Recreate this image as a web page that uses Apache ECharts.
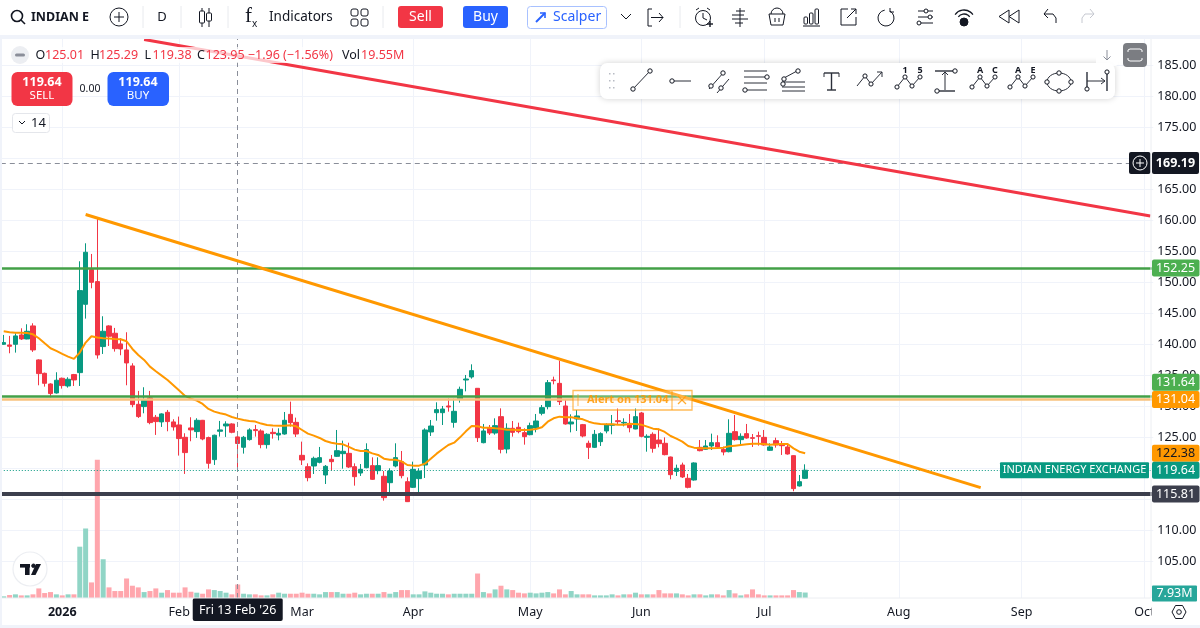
<!DOCTYPE html>
<html>
<head>
<meta charset="utf-8">
<title>INDIAN E</title>
<script src="https://cdn.jsdelivr.net/npm/echarts@6/dist/echarts.min.js"></script>
<style>html,body{margin:0;padding:0;background:#fff}#main{width:1200px;height:628px}</style>
</head>
<body>
<div id="main"></div>
<script>
// daily candles
const open = [139.95,139.84,139.95,141.46,140.81,142.91,137.43,135.27,133.55,132.10,
134.47,133.23,135.06,135.38,146.40,151.99,150.06,139.58,142.91,141.73,
140.01,139.04,136.46,130.27,129.90,131.30,128.18,127.43,128.98,127.43,
126.94,124.95,126.46,125.87,127.69,124.90,121.35,125.92,126.78,127.10,
125.01,123.34,124.58,126.19,125.97,123.77,125.75,125.32,125.48,128.65,
127.36,122.04,120.21,120.32,120.91,118.87,121.40,121.88,122.31,122.36,
120.21,119.19,120.05,120.38,119.57,118.66,117.63,120.32,121.02,117.79,
116.88,118.28,120.48,125.81,128.92,128.92,130.00,127.36,131.07,134.19,
134.68,132.85,124.08,126.50,125.64,128.28,123.06,126.40,126.56,125.70,
125.37,126.45,128.82,129.89,134.19,133.65,130.00,127.10,127.90,126.99,
123.98,123.33,124.25,125.97,126.88,127.63,127.26,127.20,126.29,128.87,
124.94,125.43,124.51,123.98,121.77,119.46,120.48,118.33,118.06,123.33,
123.01,123.55,124.08,123.01,122.63,125.86,124.57,125.54,124.89,125.21,
124.94,122.85,124.41,123.82,123.39,121.99,117.10,118.33];
const close = [140.22,139.63,141.30,140.81,142.05,139.04,135.22,133.66,132.00,134.15,
133.29,134.31,134.20,148.61,154.79,149.95,138.23,142.05,141.24,139.25,
139.20,136.94,130.22,128.29,130.92,127.32,127.48,128.72,127.48,126.62,
124.74,122.48,126.14,127.69,124.68,120.76,125.28,126.14,127.10,125.76,
123.95,124.95,126.14,126.03,123.77,125.44,125.54,125.59,127.69,127.31,
125.48,121.29,118.44,121.56,121.67,120.27,121.02,122.79,122.69,120.16,
118.60,119.78,122.96,118.17,120.38,115.21,119.51,121.67,118.76,114.57,
119.78,119.51,126.13,126.77,129.41,129.51,129.84,129.14,132.69,134.35,
135.70,124.89,125.97,125.64,126.83,123.01,126.40,125.75,125.86,125.05,
126.83,127.58,129.73,133.76,134.08,130.70,127.10,127.42,128.39,125.16,
123.33,125.43,125.54,126.99,127.04,127.47,127.36,126.50,128.28,125.11,
125.11,123.17,123.92,122.15,118.92,119.95,118.55,116.88,120.81,122.79,
123.55,124.08,123.39,122.58,125.59,124.57,125.11,124.84,124.78,125.11,
123.71,123.39,123.71,123.60,122.26,116.67,117.79,119.64];
const high = [141.46,141.30,141.73,142.53,143.18,143.34,137.53,135.38,133.66,135.44,
134.58,134.63,135.17,153.34,156.24,154.52,160.27,144.47,143.02,142.59,
140.92,141.89,136.89,132.43,133.02,132.43,128.55,128.82,129.36,127.86,
128.29,125.60,128.18,128.02,127.75,125.06,125.38,127.59,127.53,127.21,
125.29,125.17,126.40,126.94,126.24,125.60,126.40,126.40,129.03,130.70,
128.12,124.25,120.75,121.83,123.39,120.48,122.10,126.13,124.41,124.08,
120.75,120.64,123.98,121.72,121.72,119.51,119.95,123.98,122.74,118.49,
121.02,119.95,126.40,127.74,130.59,130.00,131.23,131.18,133.12,135.00,
136.72,132.90,127.10,126.93,128.01,129.62,127.20,127.58,127.31,126.40,
127.31,128.71,130.16,134.19,134.73,137.31,131.07,128.65,129.35,127.10,
124.41,126.13,125.75,127.20,128.55,129.62,128.01,128.71,129.62,129.03,
125.43,125.75,126.34,124.94,121.83,120.54,120.86,119.03,120.91,124.51,
124.51,125.54,125.27,123.44,127.85,128.55,125.59,127.10,125.48,125.86,
126.13,123.98,124.89,124.35,123.98,122.04,118.87,120.59];
const low = [139.84,138.50,138.61,140.65,140.76,138.72,133.34,133.12,131.40,132.00,
132.80,132.96,133.23,133.23,144.09,148.98,137.64,138.39,139.68,138.77,
138.18,133.34,129.79,128.07,128.82,127.05,125.33,126.62,125.92,126.03,
122.00,119.04,124.31,124.85,124.47,119.90,120.49,125.06,125.01,125.60,
119.38,122.32,124.42,125.06,123.18,123.13,124.73,124.46,125.37,126.67,
125.00,120.48,117.85,119.03,120.75,117.42,119.57,121.77,119.89,120.00,
117.15,118.71,119.95,118.06,118.98,114.73,115.48,120.11,118.33,114.51,
116.77,115.91,118.39,125.16,127.63,126.93,129.08,126.50,130.54,132.36,
134.41,124.19,123.98,125.32,125.37,122.36,122.36,125.05,125.59,123.76,
125.27,125.75,128.49,129.46,133.49,130.16,126.99,125.75,125.97,124.94,
121.45,123.22,123.55,125.59,125.43,127.10,126.72,125.75,126.24,124.94,
122.63,122.47,123.33,122.04,118.17,118.71,118.39,116.72,117.96,122.69,
122.90,122.90,123.22,122.04,122.52,124.41,123.82,124.73,123.39,123.60,
123.60,122.74,123.28,122.10,122.15,116.24,117.01,118.22];
// volume in millions
const volume = [2.4,4.3,5.3,3.8,3.8,5.3,13.9,7.2,8.6,5.3,
3.8,5.3,5.3,74.4,100.8,22.6,200.6,56.2,15.4,10.1,
10.1,28.3,17.8,15.4,8.6,10.1,13.9,7.7,11.5,7.7,
7.7,15.4,9.1,7.7,6.2,12.5,11.5,10.1,7.7,5.3,
19.55,6.2,5.3,5.3,3.8,3.8,5.3,7.7,6.2,6.2,
6.2,7.7,6.2,6.2,5.3,8.6,8.6,8.6,6.2,6.2,
7.7,5.3,6.2,6.2,6.2,8.6,6.2,8.6,11.5,11.5,
5.3,5.3,9.6,7.7,6.2,6.2,5.3,6.2,6.2,6.2,
6.2,35.5,8.6,6.7,12.5,17.8,12.5,11.5,7.7,6.7,
7.7,6.7,7.7,8.6,6.7,12.5,5.3,10.1,5.3,5.3,
5.3,3.8,3.8,3.8,5.3,3.8,5.3,5.3,7.7,5.3,
5.3,5.3,11.5,6.7,6.7,6.7,5.3,3.8,5.3,5.3,
3.8,5.3,5.3,3.8,11.5,6.7,3.8,5.3,12.5,5.3,
3.8,3.8,3.8,3.8,3.8,11.5,8.6,7.93];
// orange moving average
const ema = [142.05,141.89,141.83,141.83,141.78,141.56,140.92,140.11,139.31,138.88,
138.39,137.96,137.59,138.61,140.22,141.24,141.03,140.92,140.87,140.81,
140.76,140.44,139.20,138.23,137.43,136.35,135.60,134.90,134.20,133.34,
132.48,131.62,131.19,130.87,130.33,129.52,129.09,128.82,128.61,128.23,
127.96,127.75,127.59,127.48,127.16,126.94,126.85,126.80,126.83,126.88,
126.72,126.13,125.54,125.21,124.84,124.35,124.08,123.92,123.82,123.39,
122.96,122.74,122.74,122.36,122.10,121.50,121.34,121.34,121.07,120.48,
120.38,120.38,120.70,121.50,122.31,123.01,123.71,124.08,124.94,125.91,
126.77,126.72,126.50,126.50,126.40,126.34,126.18,126.18,126.13,126.13,
126.18,126.29,126.56,127.47,128.01,128.28,128.17,128.17,128.01,127.85,
127.47,127.20,127.10,127.04,127.04,126.99,126.99,127.10,127.10,126.99,
126.67,126.34,126.24,125.81,125.16,124.73,124.25,123.55,123.28,123.17,
123.17,123.17,123.22,123.28,123.49,123.60,123.71,123.82,123.92,123.92,
123.87,123.76,123.82,123.87,123.87,123.17,122.63,122.38];

const slotCount = 197;
const categories = Array.from({ length: slotCount }, (_, i) => String(i));
const tickIndex = [10, 30, 51, 70, 90, 109, 130, 153, 174, 195];
const tickLabels = ['2026', 'Feb', 'Mar', 'Apr', 'May', 'Jun', 'Jul', 'Aug', 'Sep', 'Oct'];
const priceTicks = [105,110,115,120,125,130,135,140,145,150,155,160,165,170,175,180,185];
// 115, 120 and 170 sit behind badges on the axis
const priceLabels = [105,110,125,130,135,140,145,150,155,160,165,175,180,185];

// trend lines: [slot, price]
const orangeTrend = [[14, 160.89], [167, 116.84]];
const redTrend = [[24, 189.10], [196, 160.65]];
const crossIndex = 40;
const crossPrice = 169.19;
const lastPrice = 119.64;
const levelGreenTop = 152.25;
const levelGreenMid = 131.64;
const levelAlert = 131.04;
const levelDark = 115.81;
const emaLast = 122.38;

const UP = '#089981', DOWN = '#f23645', ORANGE = '#ff9800', INK = '#131722';
const FONT = '"Noto Sans", sans-serif';

const chart = echarts.init(document.getElementById('main'), null, { renderer: 'canvas' });

const hLevel = (value, color, width, type) => ({ yAxis: value, lineStyle: { color, width, type: type || 'solid' } });

chart.setOption({
  animation: false,
  backgroundColor: '#fff',
  grid: { left: 0.8, width: 5.85 * slotCount, top: 38, height: 560 },
  xAxis: {
    type: 'category', data: categories, boundaryGap: true,
    axisLine: { show: false }, axisTick: { show: false }, splitLine: { show: false },
    axisLabel: {
      interval: (i) => tickIndex.includes(i),
      formatter: (v, i) => {
        const t = tickLabels[tickIndex.indexOf(i)];
        return t === '2026' ? '{b|2026}' : t;
      },
      rich: { b: { fontFamily: FONT, fontSize: 12.5, fontWeight: 'bold', color: INK } },
      color: INK, fontFamily: FONT, fontSize: 12.5, margin: 8
    }
  },
  yAxis: [
    {
      type: 'value', position: 'right', min: 99.03, max: 189.35, scale: true,
      axisLine: { show: false },
      axisTick: { show: false, customValues: priceTicks },
      splitLine: { lineStyle: { color: '#f0f3fa', width: 1 } },
      axisLabel: {
        customValues: priceLabels, margin: 4, color: INK, fontFamily: FONT, fontSize: 12.5,
        formatter: (v) => v.toFixed(2)
      }
    },
    { type: 'value', min: 0, max: 812, show: false, splitLine: { show: false } }
  ],
  series: [
    {
      name: 'Volume', type: 'bar', yAxisIndex: 1, barWidth: 5, z: 1, silent: true,
      data: volume.map((v, i) => ({
        value: v,
        itemStyle: { color: close[i] >= open[i] ? '#90d5c6' : '#ffa6ad' }
      })),
      markLine: {
        silent: true, symbol: 'none', z: 0, label: { show: false },
        lineStyle: { color: '#f0f3fa', width: 1, type: 'solid' },
        data: tickIndex.map((i) => ({ xAxis: i }))
      }
    },
    {
      name: 'INDIAN ENERGY EXCHANGE', type: 'candlestick', barWidth: 5, z: 2, silent: true,
      itemStyle: { color: UP, color0: DOWN, borderColor: UP, borderColor0: DOWN, borderWidth: 1 },
      data: open.map((o, i) => [o, close[i], low[i], high[i]]),
      markLine: {
        silent: true, symbol: 'none', label: { show: false },
        data: [
          hLevel(crossPrice, '#8a8e99', 1, [5, 4]),
          { xAxis: crossIndex, lineStyle: { color: '#8a8e99', width: 1, type: [5, 4] } },
          hLevel(lastPrice, '#089981', 1, [1, 2]),
          hLevel(levelGreenTop, '#43a047', 2.5),
          hLevel(levelAlert, '#f7c27e', 2.5),
          hLevel(levelGreenMid, '#43a047', 2.5),
          hLevel(levelDark, '#3c3f4d', 4)
        ]
      }
    },
    {
      name: 'EMA', type: 'line', data: ema, z: 4, symbol: 'none', silent: true,
      lineStyle: { color: ORANGE, width: 2 }
    },
    {
      name: 'Trend', type: 'line', data: orangeTrend, z: 6, symbol: 'none', silent: true,
      lineStyle: { color: ORANGE, width: 3 }
    },
    {
      name: 'Trend 2', type: 'line', data: redTrend, z: 6, symbol: 'none', silent: true,
      lineStyle: { color: DOWN, width: 3 }
    }
  ]
});

// little drawing helpers for the toolbar and price badges
const els = [];
const Z = 100;
const rect = (x, y, w, h, fill, r, stroke, lw, z) => els.push({ type: 'rect', silent: true, z: z || Z,
  shape: { x, y, width: w, height: h, r: r || 0 }, style: { fill: fill || 'none', stroke: stroke || 'none', lineWidth: lw || 1 } });
const text = (x, y, s, fill, size, opts) => els.push({ type: 'text', silent: true, z: (opts && opts.z) || Z + 2,
  style: { x, y, text: s, fill, font: ((opts && opts.weight) || 'normal') + ' ' + size + 'px ' + ((opts && opts.family) || FONT),
    textAlign: (opts && opts.align) || 'left', textVerticalAlign: 'middle' } });
const ln = (x1, y1, x2, y2, c, w) => els.push({ type: 'line', silent: true, z: Z + 1, shape: { x1, y1, x2, y2 },
  style: { stroke: c || INK, lineWidth: w || 1 } });
const poly = (pts, c, w) => els.push({ type: 'polyline', silent: true, z: Z + 1, shape: { points: pts },
  style: { stroke: c || INK, lineWidth: w || 1, fill: 'none' } });
const polygon = (pts, fill, stroke, z) => els.push({ type: 'polygon', silent: true, z: z || Z + 1, shape: { points: pts },
  style: { fill: fill || 'none', stroke: stroke || 'none', lineWidth: 1 } });
const circ = (x, y, r, fill, stroke, w, z) => els.push({ type: 'circle', silent: true, z: z || Z + 2, shape: { cx: x, cy: y, r },
  style: { fill: fill || '#fff', stroke: stroke || INK, lineWidth: w || 1 } });
const arc = (x, y, r, a0, a1, c, w) => els.push({ type: 'arc', silent: true, z: Z + 1,
  shape: { cx: x, cy: y, r, startAngle: a0, endAngle: a1 }, style: { stroke: c || INK, lineWidth: w || 1, fill: 'none' } });

// right axis panel and chart surrounds
rect(0, 0, 1200, 35, '#fff');
rect(0, 35, 1200, 4, '#f0f3fa');
rect(0, 39, 2, 586, '#f0f3fa');
ln(1151, 39, 1151, 598, '#eceef2', 1);
ln(2, 598, 1151, 598, '#eceef2', 1);
rect(1151.5, 599, 49, 26, '#fff');
rect(0, 625, 1200, 3, '#f0f3fa');

// top toolbar
circ(17, 16, 5.5, 'none', INK, 1.6); ln(21, 20, 25, 24, INK, 1.6);
text(31, 17, 'INDIAN E', INK, 12.5, { weight: 'bold' });
circ(119, 17, 9, 'none', INK, 1); ln(114, 17, 124, 17); ln(119, 12, 119, 22);
[143, 181, 228, 383, 680].forEach((x) => ln(x, 6, x, 28, '#e8eaee', 1));
text(162, 17, 'D', INK, 13, { align: 'center' });
ln(202, 8, 202, 27); rect(199.5, 11, 5, 12, '#fff', 1, INK, 1, Z + 2);
ln(209, 8, 209, 27); rect(206.5, 13, 5, 8, '#fff', 1, INK, 1, Z + 2);
text(245, 16, 'f', INK, 21, { family: '"Liberation Serif", serif' });
text(252, 24, 'x', INK, 10);
text(269, 17, 'Indicators', INK, 13.5);
[[351, 9], [361, 9], [351, 19], [361, 19]].forEach((p) => rect(p[0], p[1], 7, 7, 'none', 2, INK, 1, Z + 1));
rect(398, 6, 45, 22, DOWN, 3); text(420.5, 17, 'Sell', '#fff', 14, { align: 'center' });
rect(463, 6, 45, 22, '#2962ff', 3); text(485.5, 17, 'Buy', '#fff', 14, { align: 'center' });
rect(527.5, 6.5, 79, 22, '#fff', 3, '#a8c1ff', 1);
poly([[536, 22], [545, 13]], '#2962ff', 2); poly([[540, 13], [545, 13], [545, 18]], '#2962ff', 1.6);
text(553, 17, 'Scalper', '#2962ff', 14);
poly([[621, 14], [626, 19], [631, 14]]);
poly([[652, 9], [648, 9], [648, 26], [652, 26]]); ln(651, 17.5, 663, 17.5); poly([[659, 13], [663, 17.5], [659, 22]]);
// alarm
circ(703, 18, 7.5, 'none'); poly([[703, 13], [703, 18], [707, 20]]); ln(696, 10, 699, 8); ln(710, 10, 707, 8);
ln(707, 24, 713, 24, INK, 1.4); ln(710, 21, 710, 27, INK, 1.4);
// depth list
ln(740, 8, 740, 27); [[11, -4, 5], [15, -8, 4], [19, -8, 8], [23, -5, 3]].forEach((r) => { ln(740 + r[1], r[0], 740, r[0]); ln(740, r[0] + 0, 740 + r[2], r[0]); });
// basket
poly([[769, 14], [785, 14], [783, 25], [771, 25], [769, 14]]); arc(777, 14, 6, Math.PI, 0); ln(775, 18, 775, 22); ln(779, 18, 779, 22);
// bars
rect(804, 17, 3.5, 7, 'none', 1, INK, 1, Z + 1); rect(809.5, 13, 3.5, 11, 'none', 1, INK, 1, Z + 1); rect(815, 9, 3.5, 15, 'none', 1, INK, 1, Z + 1); ln(803, 26, 820, 26);
// external link
poly([[848, 9], [841, 9], [841, 25], [856, 25], [856, 17]]); ln(847, 18, 856, 9); poly([[851, 9], [856, 9], [856, 14]]);
// refresh
arc(886, 18, 8, -Math.PI / 3, Math.PI * 1.45); poly([[890, 8], [890, 12], [894, 12]]);
// sliders
[[11, 928], [17, 932], [23, 921]].forEach((r) => { ln(918, r[0], 933, r[0]); circ(r[1] - 2, r[0], 2); });
// wifi
arc(964, 21, 11, -Math.PI * 0.8, -Math.PI * 0.2, INK, 1.3); arc(964, 21, 7, -Math.PI * 0.8, -Math.PI * 0.2, INK, 1.3);
circ(964, 22, 4, INK, INK);
// rewind
polygon([[1009, 10], [1009, 23], [999, 16.5]], '#fff', INK); polygon([[1019, 10], [1019, 23], [1009, 16.5]], '#fff', INK);
// undo / redo
poly([[1048, 9], [1044, 14], [1048, 18]]); poly([[1044, 14], [1053, 14], [1056, 18], [1056, 23]]);
poly([[1090, 9], [1094, 14], [1090, 18]], '#c5c8d0'); poly([[1094, 14], [1085, 14], [1082, 18], [1082, 23]], '#c5c8d0');

// legend row
rect(30, 47, 378, 16, 'rgba(255,255,255,0.72)', 0);
rect(11, 46, 18, 18, '#eceef2', 9); rect(15, 53.5, 10, 3, '#8a8e99', 1.5);
const c40 = crossIndex;
const legendRows = [
  [35.5, 'O', INK], [45, open[c40].toFixed(2), DOWN],
  [90.5, 'H', INK], [99, high[c40].toFixed(2), DOWN],
  [144.5, 'L', INK], [152.5, low[c40].toFixed(2), DOWN],
  [197, 'C', INK], [205.5, close[c40].toFixed(2) + ' \u22121.96 (\u22121.56%)', DOWN],
  [342, 'Vol', INK], [361, volume[c40].toFixed(2) + 'M', DOWN]
];
legendRows.forEach((r) => text(r[0], 55.5, r[1], r[2], 12.5));
rect(11.5, 72, 61, 34, DOWN, 6);
text(42, 82, lastPrice.toFixed(2), '#fff', 12.5, { align: 'center', weight: 'bold' });
text(42, 96, 'SELL', '#fff', 11.5, { align: 'center' });
text(90, 89, '0.00', INK, 10.5, { align: 'center' });
rect(107.5, 72, 61.5, 34, '#2962ff', 6);
text(138, 82, lastPrice.toFixed(2), '#fff', 12.5, { align: 'center', weight: 'bold' });
text(138, 96, 'BUY', '#fff', 11.5, { align: 'center' });
rect(12.5, 113.5, 37, 19, '#fff', 3, '#e4e6eb', 1);
poly([[19, 121], [22, 124], [25, 121]]);
text(31, 123, '14', INK, 13);

// drawing tools panel
els.push({ type: 'rect', silent: true, z: Z, shape: { x: 600, y: 63, width: 515, height: 36, r: 7 },
  style: { fill: '#fff', shadowBlur: 6, shadowColor: 'rgba(0,0,0,0.18)' } });
[[609, 73], [613, 73], [609, 80], [613, 80], [609, 87], [613, 87]].forEach((p) => rect(p[0], p[1], 1.5, 1.5, '#b8bbc4'));
const ink2 = '#2a2e39';
ln(633, 89, 650, 71, ink2); circ(633, 89, 2.2); circ(650, 71, 2.2);
circ(672, 81, 2.2); ln(674, 81, 691, 81, ink2);
ln(709, 89, 724, 72, ink2); circ(711, 86, 2.2); circ(723, 73, 2.2); ln(717, 93, 729, 79, ink2); circ(721, 88, 2.2);
[71, 77, 83, 90].forEach((y) => ln(744, y, 767, y, ink2)); circ(767, 77, 2.2); circ(745, 90, 2.2);
[82, 87, 91].forEach((y) => ln(782, y, 805, y, ink2)); ln(784, 78, 797, 71, ink2); circ(784, 79, 2.2); circ(798, 71, 2.2); circ(783, 84, 2.2);
ln(824, 73, 839, 73, ink2, 1.4); ln(831.5, 73, 831.5, 90, ink2, 1.4); ln(827, 90, 836, 90, ink2, 1.4); ln(824, 73, 824, 77, ink2); ln(839, 73, 839, 77, ink2);
poly([[857, 86], [865, 76], [871, 84], [882, 72]], ink2); poly([[877, 72], [882, 72], [882, 77]], ink2); circ(865, 76, 2.1); circ(871, 84, 2.1);
const zig = (x0, lbl1, lbl2) => {
  poly([[x0, 87], [x0 + 8, 77], [x0 + 15, 86], [x0 + 23, 77]], ink2);
  [[x0, 87], [x0 + 8, 77], [x0 + 15, 86], [x0 + 23, 77]].forEach((p) => circ(p[0], p[1], 2.1));
  text(x0 + 8, 70, lbl1, INK, 9, { align: 'center', weight: 'bold' });
  text(x0 + 23, 70, lbl2, INK, 9, { align: 'center', weight: 'bold' });
};
zig(897, '1', '5');
ln(935, 71, 955, 71, ink2, 1.4); ln(935, 91, 955, 91, ink2, 1.4); ln(945, 72, 945, 90, ink2); poly([[942, 75], [945, 72], [948, 75]], ink2); circ(955, 71, 2.2); circ(937, 91, 2.2);
zig(972, 'A', 'C');
zig(1010, 'A', 'E');
els.push({ type: 'ellipse', silent: true, z: Z + 1, shape: { cx: 1059, cy: 82, rx: 12, ry: 9 }, style: { stroke: ink2, lineWidth: 1, fill: 'none' } });
[[1047, 82], [1071, 82], [1059, 73], [1059, 91]].forEach((p) => circ(p[0], p[1], 2.2));
ln(1087, 72, 1087, 91, ink2, 1.4); ln(1087, 81, 1105, 81, ink2); poly([[1101, 78], [1105, 81], [1101, 84]], ink2); ln(1107, 74, 1107, 91, ink2, 1.4); circ(1107, 72, 2.1); circ(1087, 89, 2.1);

// scroll and fullscreen controls
rect(1096, 44, 22, 22, 'rgba(255,255,255,0.9)', 3);
ln(1107, 50, 1107, 60, '#8a8e99'); poly([[1103.5, 56.5], [1107, 60], [1110.5, 56.5]], '#8a8e99');
rect(1123, 43, 24, 24, '#7b7d82', 4);
poly([[1128, 52], [1128, 50], [1130, 49], [1140, 49], [1142, 50], [1142, 52]], '#fff');
poly([[1128, 58], [1128, 60], [1130, 61], [1140, 61], [1142, 60], [1142, 58]], '#fff');

// alert box
rect(573, 390.5, 119, 19.5, 'rgba(255,255,255,0.25)', 0, 'rgba(255,152,0,0.65)', 1.3);
ln(672, 391, 672, 410, 'rgba(255,152,0,0.65)', 1.2);
ln(578, 394, 578, 406, 'rgba(255,152,0,0.55)', 1.2);
text(587, 400, 'Alert on ' + levelAlert.toFixed(2), 'rgba(255,152,0,0.85)', 11, { weight: 'bold' });
ln(678, 396, 686, 404, 'rgba(255,152,0,0.8)', 1.2); ln(686, 396, 678, 404, 'rgba(255,152,0,0.8)', 1.2);

// TV logo
circ(30, 569, 17, '#fff', '#eceef2', 1.2, Z);
rect(20, 564, 10, 3.6, '#131722', 0, null, 1, Z + 1); rect(25, 564, 4.6, 11, '#131722', 0, null, 1, Z + 1);
circ(33.5, 565.8, 1.8, '#131722', '#131722');
polygon([[36, 564], [41, 564], [35.5, 575], [31, 575]], '#131722');

// price badges, placed through the axis scale
const py = (v) => chart.convertToPixel({ yAxisIndex: 0 }, v);
const badge = (v, bg, fg, shift, label, w) => {
  const y = py(v) + (shift || 0);
  rect(1152, y - 8.5, w || 47.5, 17, bg, 2);
  text(1175.5, y, label || v.toFixed(2), fg || '#fff', 12.5, { align: 'center' });
};
badge(levelGreenTop, '#4caf50');
badge(levelGreenMid, '#4caf50', '#fff', -13.5);
badge(levelAlert, ORANGE, '#fff', 0);
badge(emaLast, ORANGE, INK);
badge(lastPrice, UP);
badge(levelDark, '#3c3f4d');
// crosshair price tag with the add button next to it
const crossY = py(crossPrice);
rect(1129, crossY - 11, 21.5, 22, INK, 2);
rect(1152, crossY - 11, 47, 22, INK, 2);
text(1175.5, crossY, crossPrice.toFixed(2), '#fff', 12.5, { align: 'center', weight: 'bold' });
circ(1140, crossY, 7, 'none', '#fff', 1);
ln(1136, crossY, 1144, crossY, '#fff', 1); ln(1140, crossY - 4, 1140, crossY + 4, '#fff', 1);
rect(1000, py(lastPrice) - 8, 149, 16, UP, 1);
text(1074.5, py(lastPrice), 'INDIAN ENERGY EXCHANGE', '#fff', 11, { align: 'center' });
// volume badge sits on the volume axis
const volY = chart.convertToPixel({ yAxisIndex: 1 }, volume[volume.length - 1]);
rect(1152, volY - 7, 45, 16, '#26a69a', 1);
text(1174.5, volY + 1, volume[volume.length - 1].toFixed(2) + 'M', '#fff', 12.5, { align: 'center' });

// crosshair date pill
const crossX = chart.convertToPixel({ xAxisIndex: 0 }, crossIndex);
rect(crossX - 45, 598, 90, 23, INK, 2);
text(crossX, 610, "Fri 13 Feb '26", '#fff', 12.5, { align: 'center' });

// settings hexagon
polygon([[1172, 612], [1175.5, 605.5], [1182.5, 605.5], [1186, 612], [1182.5, 618.5], [1175.5, 618.5]], 'none', INK);
circ(1179, 612, 2.3, 'none');

chart.setOption({ graphic: { elements: els } });
</script>
</body>
</html>
